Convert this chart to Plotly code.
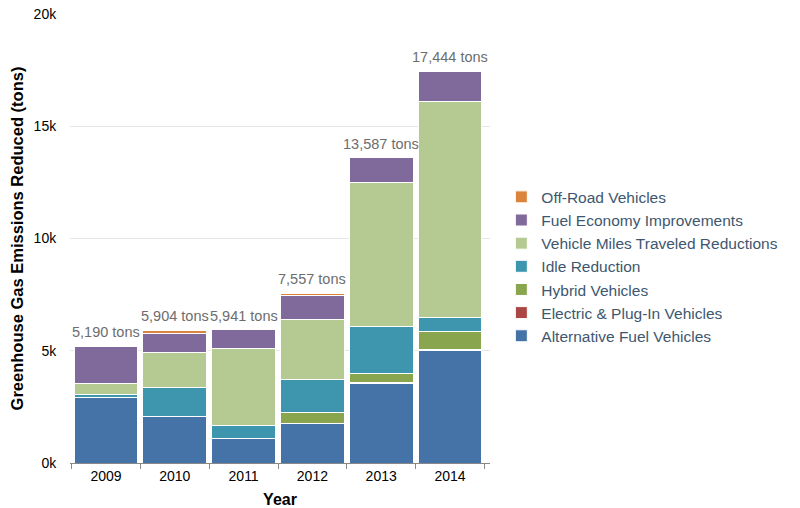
import plotly.graph_objects as go

years = ["2009", "2010", "2011", "2012", "2013", "2014"]
alt_fuel = [2940, 2084, 1070, 1760, 3560, 5030]
electric = [0, 0, 0, 20, 30, 30]
hybrid = [0, 0, 0, 470, 400, 785]
idle = [100, 1300, 620, 1490, 2080, 640]
vmt = [520, 1540, 3420, 2667, 6407, 9619]
fuel_econ = [1630, 830, 831, 1070, 1110, 1340]
off_road = [0, 150, 0, 80, 0, 0]

series = [
    ("Alternative Fuel Vehicles", alt_fuel, "#4572A7"),
    ("Electric & Plug-In Vehicles", electric, "#AA4643"),
    ("Hybrid Vehicles", hybrid, "#89A54E"),
    ("Idle Reduction", idle, "#3D96AE"),
    ("Vehicle Miles Traveled Reductions", vmt, "#B5CA92"),
    ("Fuel Economy Improvements", fuel_econ, "#80699B"),
    ("Off-Road Vehicles", off_road, "#DB843D"),
]

FONT = "Liberation Sans, Arial, sans-serif"

fig = go.Figure()
for name, vals, color in series:
    fig.add_trace(go.Bar(
        x=years, y=vals, name=name,
        marker=dict(color=color, line=dict(color="white", width=1)),
    ))

totals = [sum(s[1][i] for s in series) for i in range(len(years))]
for idx, t in enumerate(totals):
    # category axis: annotation x given as the category index
    fig.add_annotation(
        x=idx, y=t, text=f"{t:,} tons", showarrow=False,
        yanchor="bottom", yshift=4,
        font=dict(size=14.5, color="#6d6d6d", family=FONT),
    )

fig.update_layout(
    width=792, height=500,
    barmode="stack", bargap=0.07,
    plot_bgcolor="white", paper_bgcolor="white",
    margin=dict(l=62, r=310, t=6, b=45),
    font=dict(family=FONT, size=14, color="#000000"),
    legend=dict(
        x=1.027, y=0.437, xanchor="left", yanchor="middle",
        traceorder="reversed",
        font=dict(size=15.5, color="#3E576F", family=FONT),
    ),
    xaxis=dict(
        type="category",
        categoryorder="array", categoryarray=years,
        title=dict(text="<b>Year</b>", font=dict(size=16, color="#000000")),
        showline=True, linecolor="#888888", linewidth=1,
        ticks="outside", tickson="boundaries", ticklen=5, tickcolor="#888888",
        tickfont=dict(size=14, color="#000000"),
        automargin=False,
    ),
    yaxis=dict(
        title=dict(text="<b>Greenhouse Gas Emissions Reduced (tons)</b>", font=dict(size=16.5, color="#000000")),
        range=[0, 20000],
        tickvals=[0, 5000, 10000, 15000, 20000],
        ticktext=["0k", "5k", "10k", "15k", "20k"],
        gridcolor="#e6e6e6", zeroline=False,
        ticks="outside", ticklen=10, tickcolor="rgba(0,0,0,0)",
        tickfont=dict(size=14, color="#000000"),
        ticklabeloverflow="allow",
        automargin=False,
    ),
)

fig.write_html("out.html")
